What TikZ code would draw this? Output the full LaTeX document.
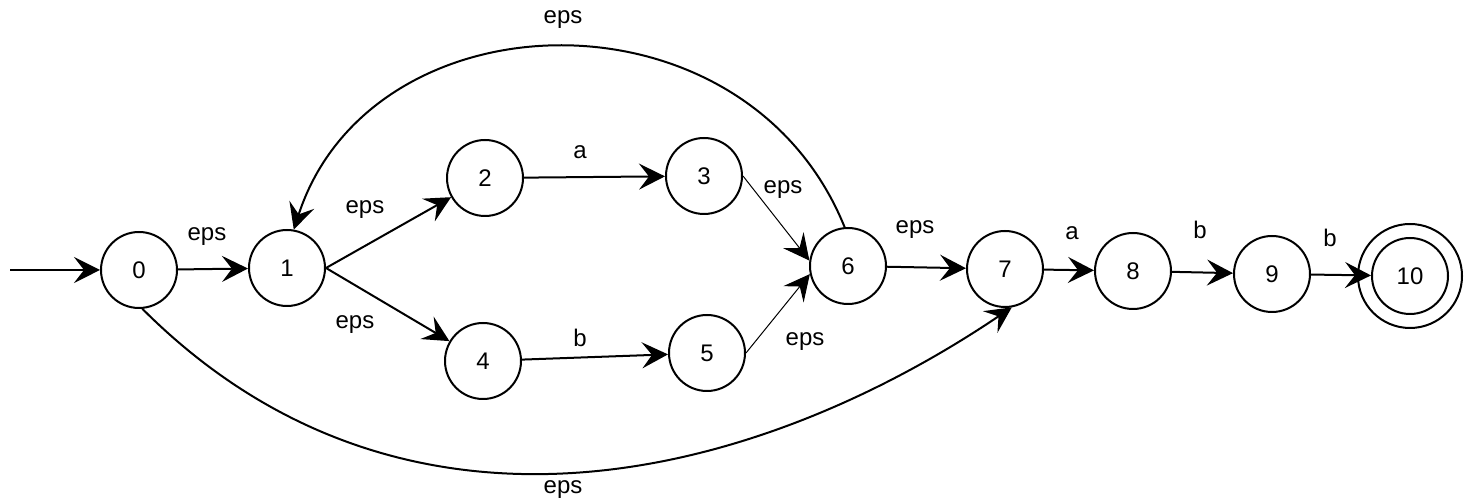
\documentclass[tikz,border=0pt]{standalone}
\usepackage{fontspec}
\setmainfont{Liberation Sans}
\usetikzlibrary{arrows.meta}
\begin{document}
\begin{tikzpicture}[x=0.5pt,y=0.5pt,
  state/.style={circle,draw,line width=1pt,minimum size=38pt,inner sep=0pt,
    font=\fontsize{12}{14}\selectfont},
  lbl/.style={inner sep=0pt,font=\fontsize{12}{14}\selectfont},
  trans/.style={line width=1pt,-{Stealth[length=13pt,width=13pt,inset=5pt]}},
  thintrans/.style={line width=0.5pt,-{Stealth[length=13pt,width=13pt,inset=5pt]}},
]
\useasboundingbox (0,0) rectangle (1474,502);

% states
\node[state] (n0) at (139,232) {0};
\node[state] (n1) at (287,234) {1};
\node[state] (n2) at (485,324) {2};
\node[state] (n3) at (704,326) {3};
\node[state] (n4) at (483,141) {4};
\node[state] (n5) at (707,149) {5};
\node[state] (n6) at (848,236) {6};
\node[state] (n7) at (1005,233) {7};
\node[state] (n8) at (1133,231) {8};
\node[state] (n9) at (1272,228) {9};
\node[state] (n10) at (1410,226) {10};
% accepting ring
\draw[line width=1pt] (n10.center) circle[radius=26pt];

% initial arrow
\coordinate (init) at (10,232);
\draw[trans] (init) -- (n0);

% transitions
\draw[trans] (n0) -- (n1);
\draw[trans] (n1.east) -- (n2);
\draw[trans] (n1.east) -- (n4);
\draw[trans] (n2) -- (n3);
\draw[trans] (n4) -- (n5);
\draw[thintrans] (n3.east) -- (n6.172);
\draw[thintrans] (n5.east) -- (n6.192);
\draw[trans] (n6) -- (n7);
\draw[trans] (n7) -- (n8);
\draw[trans] (n8) -- (n9);
\draw[trans] (n9) -- (n10);
\draw[trans] (n6.95) .. controls +(112:265) and +(72:250) .. (n1.80);
\draw[trans] (n0.-85) .. controls +(-45:370) and +(214:312) .. (n7.-80);

% transition labels
\node[lbl] (l01) at (207,265) {eps};
\node[lbl] (l12) at (365,292) {eps};
\node[lbl] (l14) at (355,177) {eps};
\node[lbl] (l23) at (580,350) {a};
\node[lbl] (l45) at (580,164) {b};
\node[lbl] (l36) at (783,312) {eps};
\node[lbl] (l56) at (805,160) {eps};
\node[lbl] (l67) at (915,272) {eps};
\node[lbl] (l78) at (1072,269) {a};
\node[lbl] (l89) at (1200,272) {b};
\node[lbl] (l910) at (1330,264) {b};
\node[lbl] (l61) at (563,482) {eps};
\node[lbl] (l07) at (563,12) {eps};
\end{tikzpicture}
\end{document}
